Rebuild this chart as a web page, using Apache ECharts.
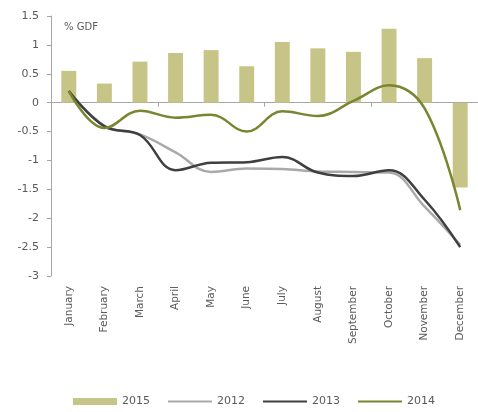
<!DOCTYPE html>
<html>
<head>
<meta charset="utf-8">
<script src="https://cdn.jsdelivr.net/npm/echarts@6/dist/echarts.min.js"></script>
<style>
  html, body { margin: 0; padding: 0; background: #fff; }
  #chart { width: 478px; height: 412px; }
</style>
</head>
<body>
<div id="chart"></div>
<script>
// Monthly balance, % of GDP
const months = ['January', 'February', 'March', 'April', 'May', 'June', 'July',
  'August', 'September', 'October', 'November', 'December'];
const yTicks = [-3, -2.5, -2, -1.5, -1, -0.5, 0, 0.5, 1, 1.5];

const values2015 = [0.55, 0.33, 0.71, 0.86, 0.91, 0.63, 1.05, 0.94, 0.88, 1.28, 0.77, -1.47];
const values2012 = [0.2, -0.4, -0.55, -0.86, -1.2, -1.14, -1.15, -1.19, -1.2, -1.21, -1.8, -2.46];
const values2013 = [0.2, -0.41, -0.56, -1.17, -1.04, -1.03, -0.94, -1.21, -1.27, -1.17, -1.68, -2.5];
const values2014 = [0.2, -0.44, -0.14, -0.26, -0.21, -0.5, -0.15, -0.23, 0.03, 0.3, -0.1, -1.86];

const textColor = '#5a5a5a';
const axisGray = '#a6a6a6';
const font = '"DejaVu Sans", sans-serif';

const chart = echarts.init(document.getElementById('chart'), null, { renderer: 'canvas' });

function lineSeries(name, data, color) {
  return {
    name: name,
    type: 'line',
    data: data,
    smooth: 0.4,
    symbol: 'none',
    xAxisIndex: 0,
    lineStyle: { color: color, width: 2.5 },
    itemStyle: { color: color },
    z: 3
  };
}

// legend entries for the lines: plain stroke, no marker
function lineLegend(name) {
  return { name: name, itemStyle: { opacity: 0, color: 'transparent', borderWidth: 0 } };
}

chart.setOption({
  animation: false,
  backgroundColor: '#ffffff',
  textStyle: { fontFamily: font },
  grid: { left: 51, right: 0, top: 16, height: 260 },
  graphic: [{
    type: 'text',
    left: 64,
    top: 22,
    style: { text: '% GDF', fill: textColor, font: '10px "DejaVu Sans", sans-serif' }
  }],
  legend: {
    bottom: 0,
    left: 68,
    itemWidth: 44,
    itemHeight: 7,
    itemGap: 17,
    textStyle: { color: textColor, fontSize: 11, fontFamily: font },
    data: [
      { name: '2015', icon: 'rect' },
      lineLegend('2012'),
      lineLegend('2013'),
      lineLegend('2014')
    ]
  },
  xAxis: [{
    type: 'category',
    data: months,
    position: 'bottom',
    axisLine: { show: false, onZero: false },
    axisTick: { show: false },
    axisLabel: { rotate: 90, margin: 10, color: textColor, fontSize: 10.5, fontFamily: font, interval: 0 }
  }, {
    type: 'category',
    data: months,
    position: 'top',
    axisLine: { show: true, onZero: true, lineStyle: { color: axisGray, width: 1 } },
    axisTick: { show: true, inside: true, length: 4, lineStyle: { color: axisGray } },
    axisLabel: { show: false },
    splitLine: { show: false }
  }],
  yAxis: {
    type: 'value',
    min: yTicks[0],
    max: yTicks[yTicks.length - 1],
    interval: 0.5,
    axisLine: { show: true, lineStyle: { color: axisGray } },
    axisTick: { show: true, length: 4, lineStyle: { color: axisGray } },
    axisLabel: { color: textColor, fontSize: 11, fontFamily: font, margin: 12 },
    splitLine: { show: false }
  },
  series: [{
    name: '2015',
    type: 'bar',
    data: values2015,
    xAxisIndex: 0,
    barWidth: '42%',
    itemStyle: { color: '#c6c587' },
    z: 2
  },
    lineSeries('2012', values2012, '#a9a9a9'),
    lineSeries('2013', values2013, '#3f3f3f'),
    lineSeries('2014', values2014, '#7b8530')
  ]
});
</script>
</body>
</html>
